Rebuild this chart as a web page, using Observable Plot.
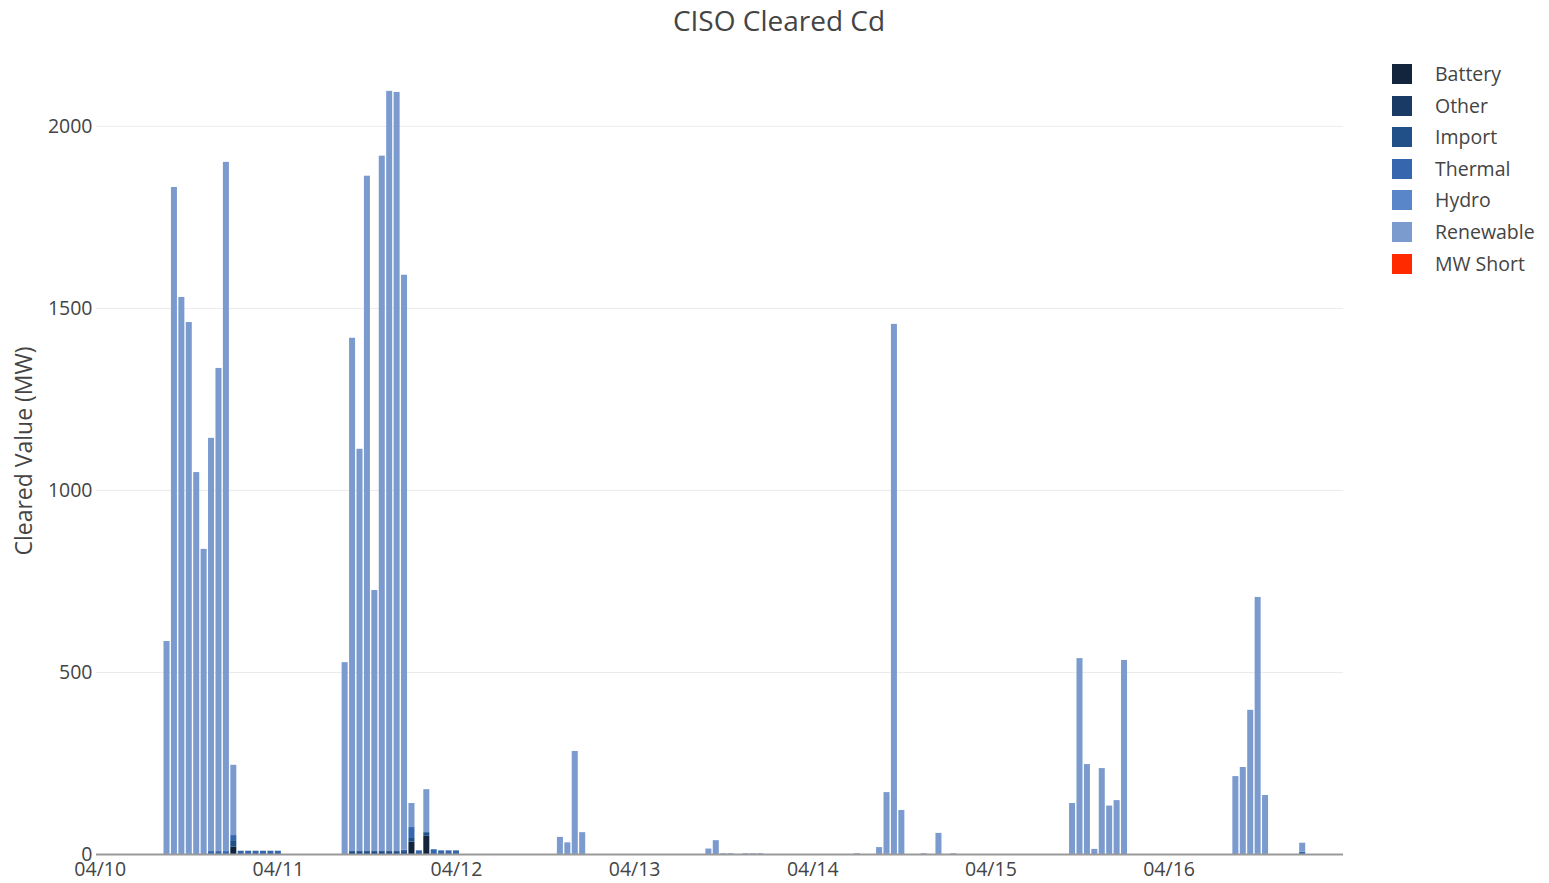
<!DOCTYPE html>
<html>
<head>
<meta charset="utf-8">
<script src="https://cdn.jsdelivr.net/npm/d3@7"></script>
<script src="https://cdn.jsdelivr.net/npm/@observablehq/plot@0.6"></script>
<style>
  html, body { margin: 0; padding: 0; background: #fff; }
  #wrap { position: relative; width: 1549px; height: 883px; font-family: "Open Sans", sans-serif; color: #444; }
  #title { position: absolute; left: 0; width: 1558px; top: 2px; text-align: center; font-size: 28px; line-height: 36px; color: #444; }
  #ylabel { position: absolute; left: 23px; top: 451px; transform: translate(-50%, -50%) rotate(-90deg); font-size: 23px; white-space: nowrap; color: #444; }
  #legend { position: absolute; left: 1392px; top: 64px; font-size: 19.5px; }
  .item { position: relative; height: 31.6px; }
  .sw { position: absolute; left: 0; top: 0; width: 20px; height: 20px; }
  .lb { position: absolute; left: 43px; top: -4px; line-height: 28px; white-space: nowrap; }
</style>
</head>
<body>
<div id="wrap">
  <div id="chart"></div>
  <div id="title">CISO Cleared Cd</div>
  <div id="ylabel">Cleared Value (MW)</div>
  <div id="legend"></div>
</div>
<script>
// ---- Data (hourly, MW) ----
const seriesNames = ["Battery", "Other", "Import", "Thermal", "Hydro", "Renewable", "MW Short"];
const seriesColors = ["#13243d", "#193a64", "#214f87", "#3566ae", "#5886c9", "#7b9bcf", "#ff2a00"];

const times = [
  "2023-04-10T09", "2023-04-10T10", "2023-04-10T11", "2023-04-10T12", "2023-04-10T13", "2023-04-10T14",
  "2023-04-10T15", "2023-04-10T16", "2023-04-10T17", "2023-04-10T18", "2023-04-10T19", "2023-04-10T20",
  "2023-04-10T21", "2023-04-10T22", "2023-04-10T23", "2023-04-11T00",
  "2023-04-11T09", "2023-04-11T10", "2023-04-11T11", "2023-04-11T12", "2023-04-11T13", "2023-04-11T14",
  "2023-04-11T15", "2023-04-11T16", "2023-04-11T17", "2023-04-11T18", "2023-04-11T19", "2023-04-11T20",
  "2023-04-11T21", "2023-04-11T22", "2023-04-11T23", "2023-04-12T00",
  "2023-04-12T14", "2023-04-12T15", "2023-04-12T16", "2023-04-12T17",
  "2023-04-13T10", "2023-04-13T11", "2023-04-13T12", "2023-04-13T13", "2023-04-13T15", "2023-04-13T16", "2023-04-13T17",
  "2023-04-14T06", "2023-04-14T09", "2023-04-14T10", "2023-04-14T11", "2023-04-14T12", "2023-04-14T15", "2023-04-14T17", "2023-04-14T19",
  "2023-04-15T11", "2023-04-15T12", "2023-04-15T13", "2023-04-15T14", "2023-04-15T15", "2023-04-15T16", "2023-04-15T17", "2023-04-15T18",
  "2023-04-16T09", "2023-04-16T10", "2023-04-16T11", "2023-04-16T12", "2023-04-16T13", "2023-04-16T18"
];

const battery = [
  0, 0, 0, 0, 0, 0, 0, 0, 0, 20, 0, 0, 0, 0, 0, 0,
  0, 0, 0, 0, 0, 0, 0, 0, 0, 34, 0, 50, 0, 0, 0, 0,
  0, 0, 0, 0,
  0, 0, 0, 0, 0, 0, 0,
  0, 0, 0, 0, 0, 0, 0, 0,
  0, 0, 0, 0, 0, 0, 0, 0,
  0, 0, 0, 0, 0, 0
];
const other = times.map(() => 0);
const importMW = [
  0, 0, 0, 0, 0, 0, 0, 0, 0, 18, 0, 0, 0, 0, 0, 0,
  0, 8, 8, 8, 8, 8, 8, 8, 8, 10, 0, 10, 0, 0, 0, 0,
  0, 0, 0, 0,
  0, 0, 0, 0, 0, 0, 0,
  0, 0, 0, 0, 0, 0, 0, 0,
  0, 0, 0, 0, 0, 0, 0, 0,
  0, 0, 0, 0, 0, 0
];
const thermal = [
  0, 0, 0, 0, 0, 0, 8, 8, 8, 14, 9, 9, 9, 9, 9, 9,
  0, 0, 0, 0, 0, 0, 0, 0, 4, 30, 10, 0, 13, 10, 10, 10,
  0, 0, 0, 0,
  0, 0, 0, 0, 0, 0, 0,
  0, 0, 0, 0, 0, 0, 0, 0,
  0, 0, 0, 0, 0, 0, 0, 0,
  0, 0, 0, 0, 0, 6
];
const hydro = times.map(() => 0);
const renewable = [
  585, 1832, 1530, 1461, 1049, 838, 1135, 1327, 1893, 193, 0, 0, 0, 0, 0, 0,
  527, 1410, 1105, 1855, 717, 1910, 2088, 2085, 1579, 66, 0, 118, 0, 0, 0, 0,
  47, 32, 283, 60,
  15, 38, 2, 2, 2, 2, 2,
  2, 19, 170, 1456, 121, 2, 58, 2,
  140, 538, 247, 14, 236, 133, 148, 533,
  214, 239, 396, 706, 162, 25
];
const mwShort = times.map(() => 0);

const yTicks = [0, 500, 1000, 1500, 2000];

// ---- Build long table ----
const seriesValues = [battery, other, importMW, thermal, hydro, renewable, mwShort];
const half = 30 * 60 * 1000;
const rows = [];
times.forEach((t, i) => {
  const c = new Date(t + ":00:00Z");
  seriesNames.forEach((s, k) => {
    const v = seriesValues[k][i];
    if (v > 0) rows.push({x1: new Date(+c - half), x2: new Date(+c + half), series: s, value: v});
  });
});

const start = new Date("2023-04-09T23:30:00Z");
const end = new Date("2023-04-16T23:30:00Z");
const dayTicks = d3.utcDay.range(new Date("2023-04-10T00:00:00Z"), new Date("2023-04-17T00:00:00Z"));

const chart = Plot.plot({
  width: 1549,
  height: 883,
  marginLeft: 96,
  marginRight: 206,
  marginTop: 53,
  marginBottom: 29,
  style: {fontFamily: "'Open Sans', sans-serif", fontSize: "19.5px", color: "#444", background: "#fff", overflow: "visible"},
  x: {type: "utc", domain: [start, end], ticks: dayTicks, tickFormat: d3.utcFormat("%m/%d"), tickSize: 0, tickPadding: 8, label: null},
  y: {domain: [0, 2200], ticks: yTicks, tickFormat: d => String(d), tickSize: 0, tickPadding: 4, label: null},
  color: {domain: seriesNames, range: seriesColors},
  marks: [
    Plot.ruleY(yTicks.filter(d => d > 0), {stroke: "#ebebeb", strokeWidth: 1}),
    Plot.rectY(rows, Plot.stackY({x1: "x1", x2: "x2", y: "value", fill: "series", order: seriesNames, insetLeft: 0.7, insetRight: 0.7})),
    Plot.ruleY([0], {stroke: "#999", strokeWidth: 2})
  ]
});
document.getElementById("chart").appendChild(chart);

// ---- Legend ----
const legend = document.getElementById("legend");
seriesNames.forEach((s, i) => {
  const item = document.createElement("div");
  item.className = "item";
  item.innerHTML = `<div class="sw" style="background:${seriesColors[i]}"></div><div class="lb">${s}</div>`;
  legend.appendChild(item);
});
</script>
</body>
</html>
